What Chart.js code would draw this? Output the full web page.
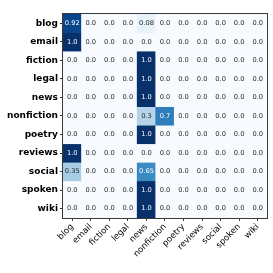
<!DOCTYPE html>
<html><head><meta charset="utf-8">
<script src="https://cdn.jsdelivr.net/npm/chart.js@4"></script>
<style>html,body{margin:0;padding:0;background:#fff}#wrap{width:273px;height:273px;position:relative}</style>
</head><body><div id="wrap"><canvas id="c"></canvas></div>
<script>
const rowLabels = ['blog','email','fiction','legal','news','nonfiction','poetry','reviews','social','spoken','wiki'];
const colLabels = ['blog','email','fiction','legal','news','nonfiction','poetry','reviews','social','spoken','wiki'];
const blog       = [0.92,0,0,0,0.08,0,0,0,0,0,0];
const email      = [1.0,0,0,0,0,0,0,0,0,0,0];
const fiction    = [0,0,0,0,1.0,0,0,0,0,0,0];
const legal      = [0,0,0,0,1.0,0,0,0,0,0,0];
const news       = [0,0,0,0,1.0,0,0,0,0,0,0];
const nonfiction = [0,0,0,0,0.3,0.7,0,0,0,0,0];
const poetry     = [0,0,0,0,1.0,0,0,0,0,0,0];
const reviews    = [1.0,0,0,0,0,0,0,0,0,0,0];
const social     = [0.35,0,0,0,0.65,0,0,0,0,0,0];
const spoken     = [0,0,0,0,1.0,0,0,0,0,0,0];
const wiki       = [0,0,0,0,1.0,0,0,0,0,0,0];
const matrix = [blog,email,fiction,legal,news,nonfiction,poetry,reviews,social,spoken,wiki];

const BLUES = ['#f7fbff','#deebf7','#c6dbef','#9ecae1','#6baed6','#4292c6','#2171b5','#08519c','#08306b'];
function hex(h){return [1,3,5].map(i=>parseInt(h.substr(i,2),16));}
function blues(v){
  const t = Math.max(0,Math.min(1,v))*(BLUES.length-1);
  const i = Math.min(Math.floor(t), BLUES.length-2), f = t-i;
  const a = hex(BLUES[i]), b = hex(BLUES[i+1]);
  const c = a.map((x,k)=>Math.round(x+(b[k]-x)*f));
  return `rgb(${c[0]},${c[1]},${c[2]})`;
}
function fmt(v){return Number.isInteger(v)?v.toFixed(1):String(v);}

const datasets = matrix.map((row,r)=>({
  label: rowLabels[r],
  data: colLabels.map(()=>1),
  values: row,
  backgroundColor: row.map(blues),
  borderWidth: 0,
  barPercentage: 1,
  categoryPercentage: 1,
  stack: 'm'
}));

const cellText = {
  id:'cellText',
  afterDatasetsDraw(chart){
    const ctx = chart.ctx;
    ctx.save();
    ctx.font = '6.7px "DejaVu Sans"';
    ctx.textAlign='center'; ctx.textBaseline='middle';
    chart.data.datasets.forEach((ds,di)=>{
      const meta = chart.getDatasetMeta(di);
      meta.data.forEach((el,j)=>{
        const v = ds.values[j];
        ctx.fillStyle = v>0.5 ? '#ffffff' : '#262626';
        ctx.fillText(fmt(v), el.x, (el.y+el.base)/2);
      });
    });
    const a = chart.chartArea;
    ctx.strokeStyle='#3a3a3a'; ctx.lineWidth=1;
    ctx.strokeRect(Math.round(a.left)-0.5, Math.round(a.top)-0.5, Math.round(a.right-a.left)+1, Math.round(a.bottom-a.top)+1);
    ctx.restore();
  }
};

new Chart(document.getElementById('c'), {
  type:'bar',
  data:{labels: colLabels, datasets},
  options:{
    responsive:true, maintainAspectRatio:false, animation:false,
    layout:{padding:{top:14,right:6,left:5,bottom:13}},
    plugins:{legend:{display:false},tooltip:{enabled:false}},
    scales:{
      x:{
        stacked:true,
        grid:{drawOnChartArea:false, offset:false, tickLength:3, color:'#333'},
        border:{display:false},
        ticks:{autoSkip:false, maxRotation:45, minRotation:45, padding:1, color:'#000', font:{family:'DejaVu Sans', size:8.5}}
      },
      y:{
        stacked:true, reverse:true, min:0, max:rowLabels.length,
        afterBuildTicks(axis){ axis.ticks = rowLabels.map((_,i)=>({value:i+0.5})); },
        grid:{drawOnChartArea:false, tickLength:3, color:'#333'},
        border:{display:false},
        ticks:{autoSkip:false, padding:2, color:'#000', font:{family:'DejaVu Sans', size:9, weight:'bold'},
          callback:(v,i)=>rowLabels[i]}
      }
    }
  },
  plugins:[cellText]
});
</script>
</body></html>
